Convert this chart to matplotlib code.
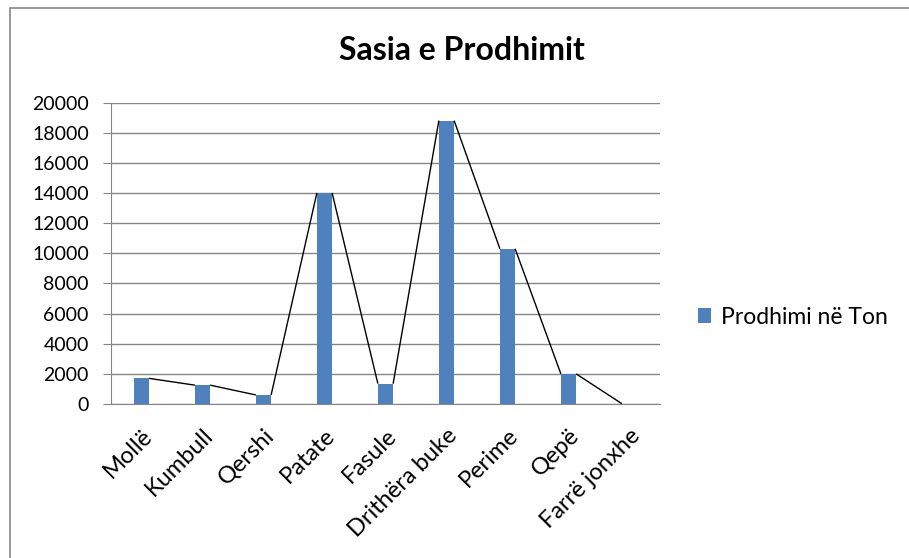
import matplotlib
matplotlib.use("Agg")
import matplotlib.pyplot as plt
from matplotlib.patches import Rectangle

categories = ["Mollë", "Kumbull", "Qershi", "Patate", "Fasule", "Drithëra buke", "Perime", "Qepë", "Farrë jonxhe"]
values = [1700, 1250, 600, 14000, 1350, 18800, 10300, 2000, 20]
yticks = [0, 2000, 4000, 6000, 8000, 10000, 12000, 14000, 16000, 18000, 20000]
title = "Sasia e Prodhimit"
series_name = "Prodhimi në Ton"

plt.rcParams['font.family'] = ['Lato', 'DejaVu Sans']

W, H = 909, 558
fig = plt.figure(figsize=(W / 100, H / 100), dpi=100)

# outer chart-area border
fig.patches.append(Rectangle((10 / W, -0.1), 1.2, 1 - 8 / H + 0.1, transform=fig.transFigure,
                             fill=False, edgecolor="#878787", linewidth=1.2))

left, right, top, bottom = 111, 660, 102.5, 404
ax = fig.add_axes([left / W, 1 - bottom / H, (right - left) / W, (bottom - top) / H])

bar_w = 0.25
color = "#4F81BD"
x = list(range(len(categories)))
ax.bar(x, values, width=bar_w, color=color, zorder=3)

# series lines: top-right of each bar to top-left of the next
for i in range(len(values) - 1):
    ax.plot([x[i] + bar_w / 2, x[i + 1] - bar_w / 2], [values[i], values[i + 1]],
            color="black", linewidth=1.0, zorder=4, solid_capstyle="butt")

ax.set_xlim(-0.5, len(categories) - 0.5)
ax.set_ylim(0, 20000)
ax.set_yticks(yticks)
ax.set_yticklabels([str(v) for v in yticks], fontsize=14, color="#000000")
ax.set_xticks(x)
ax.set_xticklabels(categories, rotation=45, ha="right", rotation_mode="anchor", fontsize=17)
ax.tick_params(axis="x", length=0, pad=15)
ax.tick_params(axis="y", length=6, color="#868686", pad=10)

ax.grid(axis="y", color="#868686", linewidth=1.0, zorder=0)
ax.set_axisbelow(True)
for s in ["top", "right"]:
    ax.spines[s].set_visible(False)
ax.spines["left"].set_color("#868686")
ax.spines["bottom"].set_color("#868686")

fig.text(462 / W, 1 - 50 / H, title, ha="center", va="center", fontsize=23, fontweight="bold")

handle = Rectangle((0, 0), 1, 1, facecolor=color)
fig.legend([handle], [series_name], loc="center left", bbox_to_anchor=(677 / W, 1 - 317 / H),
           frameon=False, fontsize=16.5, handlelength=0.6, handleheight=0.6, handletextpad=0.4)

fig.savefig("out.png", dpi=100)
